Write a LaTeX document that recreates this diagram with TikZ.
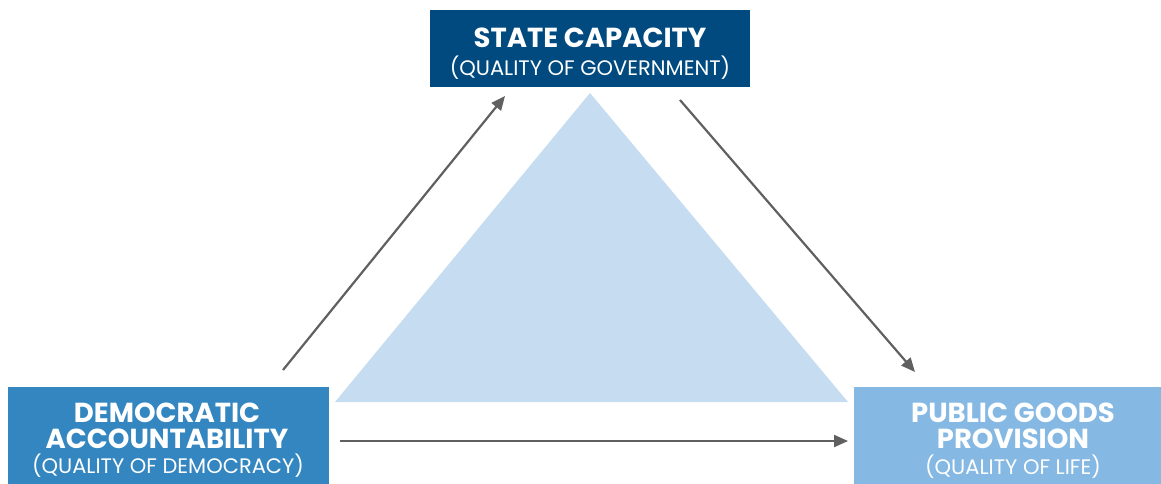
\documentclass[tikz,border=0pt]{standalone}
\usepackage{fontspec}
\setmainfont{Poppins}
\usetikzlibrary{arrows.meta}
\definecolor{navy}{HTML}{004A7F}
\definecolor{midblue}{HTML}{3386C0}
\definecolor{lightblue}{HTML}{85B9E3}
\definecolor{tri}{HTML}{C6DCF1}
\definecolor{arr}{HTML}{606060}
\tikzset{
  box/.style={draw=none,inner sep=0pt,outer sep=0pt},
  ttl/.style={text=white,anchor=base,inner sep=0pt,font=\fontsize{27.5}{27.5}\selectfont\bfseries},
  sub/.style={text=white,anchor=base,inner sep=0pt,font=\fontsize{21}{21}\selectfont},
  conn/.style={draw=arr,line width=2.2pt,-{Triangle[length=14pt,width=12pt]}}
}
\begin{document}
\begin{tikzpicture}[x=1pt,y=-1pt]
\useasboundingbox (0,0) rectangle (1161,483);
\fill[tri] (590,93) -- (848,402) -- (335,402) -- cycle;
\node[box,fill=navy,minimum width=320pt,minimum height=77pt,anchor=north west] (sc) at (430,10) {};
\node[box,fill=midblue,minimum width=321pt,minimum height=100pt,anchor=north west] (da) at (8,387) {};
\node[box,fill=lightblue,minimum width=320pt,minimum height=100pt,anchor=north west] (pg) at (854,387) {};
\node[ttl] (sct) at (590,47) {STATE CAPACITY};
\node[sub] (scs) at (590,75) {(QUALITY OF GOVERNMENT)};
\node[ttl] (dat1) at (167,422) {DEMOCRATIC};
\node[ttl] (dat2) at (167,448) {ACCOUNTABILITY};
\node[sub] (das) at (168,473) {(QUALITY OF DEMOCRACY)};
\node[ttl] (pgt1) at (1013,422) {PUBLIC GOODS};
\node[ttl] (pgt2) at (1013,448) {PROVISION};
\node[sub] (pgs) at (1013,474) {(QUALITY OF LIFE)};
\coordinate (a1) at (283,370);
\coordinate (a2) at (505,96);
\coordinate (b1) at (680,100);
\coordinate (b2) at (915,372);
\coordinate (c1) at (340,441);
\coordinate (c2) at (848,441);
\draw[conn] (a1) -- (a2);
\draw[conn] (b1) -- (b2);
\draw[conn] (c1) -- (c2);
\end{tikzpicture}
\end{document}
